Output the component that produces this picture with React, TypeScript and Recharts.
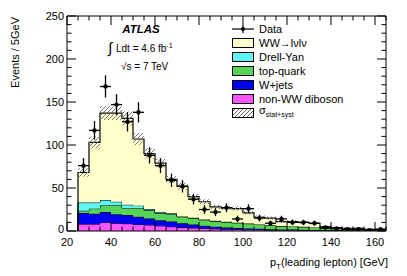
import React from 'react';
import { ComposedChart, Area, Scatter, ErrorBar, XAxis, YAxis } from 'recharts';

// lower bin edges, 5 GeV bins
const binEdges = [25, 30, 35, 40, 45, 50, 55, 60, 65, 70, 75, 80, 85, 90, 95, 100, 105, 110, 115, 120, 125, 130, 135, 140, 145, 150, 155, 160];

// expected events per bin, stacked from the bottom
const diboson = [8, 8, 10, 9, 8.5, 7.5, 7, 6, 5, 4, 3.5, 3, 2.5, 2, 2, 1.5, 1.5, 1, 1, 1, 0.8, 0.7, 0.6, 0.5, 0.4, 0.3, 0.3, 0.2];
const wjets = [13, 12, 12, 10.5, 10, 9, 7.5, 6.5, 6, 5, 4, 3, 2.5, 2, 1.5, 1.5, 1, 1, 0.8, 0.7, 0.6, 0.5, 0.4, 0.3, 0.3, 0.2, 0.2, 0.2];
const topQuark = [2.5, 6, 8, 10.5, 8, 10, 9.5, 8, 8.5, 7.5, 7.5, 7, 6.5, 6.5, 6, 5.5, 5, 4.5, 4, 3.5, 3.5, 3, 2.5, 2, 1.8, 1.5, 1.2, 1.2];
const drellYan = [9.5, 7, 6, 4, 4, 3, 1.5, 1.5, 1, 0.5, 0.5, 0.5, 0.3, 0.3, 0.2, 0.2, 0.2, 0.1, 0.1, 0, 0, 0, 0, 0, 0, 0, 0, 0];
const wwSignal = [35, 70, 101, 103, 100.5, 77.5, 64.5, 57, 39.5, 35, 24.5, 20.5, 16.2, 16.2, 16.3, 12.3, 8.3, 8.4, 5.1, 5.8, 5.1, 4.8, 1.5, 1.2, 0.5, 1, 0.3, 0.4];
const mcUncert = [5, 7, 8, 8, 8, 7, 6, 5, 4, 4, 3, 3, 2.5, 2.5, 2.5, 2, 2, 2, 1.5, 1.5, 1.5, 1.5, 1, 1, 1, 1, 1, 1];

// observed events per bin
const dataCounts = [76, 117, 168, 147, 127, 138, 88, 76, 59, 52, 37, 25, 22, 27, 14, 26, 15, 9, 14, 10, 10, 9, 4, 3, 2, 2, 1, 2];

const xTicks = [20, 25, 30, 35, 40, 45, 50, 55, 60, 65, 70, 75, 80, 85, 90, 95, 100, 105, 110, 115, 120, 125, 130, 135, 140, 145, 150, 155, 160, 165];
const yTicks = [0, 10, 20, 30, 40, 50, 60, 70, 80, 90, 100, 110, 120, 130, 140, 150, 160, 170, 180, 190, 200, 210, 220, 230, 240, 250];

const legendItems = [
  { label: 'WW\u2192l\u03bdl\u03bd', color: '#ffffcc' },
  { label: 'Drell-Yan', color: '#5ff5f5' },
  { label: 'top-quark', color: '#55d455' },
  { label: 'W+jets', color: '#0000f0' },
  { label: 'non-WW diboson', color: '#ff55ff' },
];

const BIN = 5;
const font = '"Liberation Sans", Arial, sans-serif';

const zeroRow = (x: number) => ({ x, dib: 0, wj: 0, top: 0, dy: 0, ww: 0, band: [0, 0] });
const binRow = (x: number, i: number) => {
  const tot = diboson[i] + wjets[i] + topQuark[i] + drellYan[i] + wwSignal[i];
  return {
    x,
    dib: diboson[i],
    wj: wjets[i],
    top: topQuark[i],
    dy: drellYan[i],
    ww: wwSignal[i],
    band: [Math.max(0, tot - mcUncert[i]), tot + mcUncert[i]],
  };
};

const last = binEdges.length - 1;
const histRows = [
  zeroRow(binEdges[0]),
  ...binEdges.map((e, i) => binRow(e, i)),
  binRow(binEdges[last] + BIN, last),
  zeroRow(binEdges[last] + BIN),
];

const points = binEdges.map((e, i) => ({
  x: e + BIN / 2,
  y: dataCounts[i],
  ey: Math.sqrt(dataCounts[i]),
  ex: BIN / 2,
}));

const BottomTick = (props: any) => {
  const { x, y, payload } = props;
  const major = payload.value % 20 === 0;
  return (
    <g>
      <line x1={x} x2={x} y1={y} y2={y - (major ? 9 : 4.5)} stroke="#000" />
      {major && (
        <text x={x} y={y + 15} textAnchor="middle" fontSize={11} fontFamily={font} fill="#000">
          {payload.value}
        </text>
      )}
    </g>
  );
};

const TopTick = (props: any) => {
  const { x, y, payload } = props;
  const major = payload.value % 20 === 0;
  return <line x1={x} x2={x} y1={y} y2={y + (major ? 9 : 4.5)} stroke="#000" />;
};

const LeftTick = (props: any) => {
  const { x, y, payload } = props;
  const major = payload.value % 50 === 0;
  return (
    <g>
      <line x1={x} x2={x + (major ? 9 : 4.5)} y1={y} y2={y} stroke="#000" />
      {major && (
        <text x={x - 3} y={y + (payload.value === 0 ? 2 : 4)} textAnchor="end" fontSize={11} fontFamily={font} fill="#000">
          {payload.value}
        </text>
      )}
    </g>
  );
};

const RightTick = (props: any) => {
  const { x, y, payload } = props;
  const major = payload.value % 50 === 0;
  return <line x1={x} x2={x - (major ? 9 : 4.5)} y1={y} y2={y} stroke="#000" />;
};

const Overlay = () => (
  <svg width={399} height={268} style={{ position: 'absolute', left: 0, top: 0, pointerEvents: 'none' }}>
    <defs>
      <pattern id="hatchLeg" width="4" height="4" patternUnits="userSpaceOnUse">
        <path d="M0,4 L4,0 M-1,1 L1,-1 M3,5 L5,3" stroke="#666" strokeWidth={1} />
      </pattern>
    </defs>
    <g fontFamily={font} fill="#000">
      <text x={7} y={9} transform="rotate(-90 7 9)" textAnchor="end" fontSize={11} dy={4}>
        Events / 5GeV
      </text>
      <text x={380} y={258} textAnchor="end" fontSize={11}>
        p<tspan fontSize={8} dy={3}>T</tspan>
        <tspan dy={-3}>(leading lepton) [GeV]</tspan>
      </text>
      <text x={133} y={25} textAnchor="middle" fontSize={11.5} fontWeight="bold" fontStyle="italic">
        ATLAS
      </text>
      <text x={100} y={45} fontSize={15}>{'\u222b'}</text>
      <text x={108} y={44} fontSize={10}>
        Ldt = 4.6 fb<tspan fontSize={7} dy={-4}>-1</tspan>
      </text>
      <text x={113} y={62} fontSize={10}>
        {'\u221a'}s = 7 TeV
      </text>

      <line x1={224} x2={246} y1={21} y2={21} stroke="#000" strokeWidth={1.2} />
      <line x1={235} x2={235} y1={17} y2={25} stroke="#000" strokeWidth={1.2} />
      <circle cx={235} cy={21} r={2} fill="#000" />
      <text x={251} y={25} fontSize={11}>Data</text>

      {legendItems.map((it, i) => {
        const cy = 35 + i * 14;
        return (
          <g key={it.label}>
            <rect x={224.5} y={cy - 4.5} width={21} height={9} fill={it.color} stroke="#000" strokeWidth={1} />
            <text x={251} y={cy + 4} fontSize={11}>{it.label}</text>
          </g>
        );
      })}
      <rect x={224.5} y={105 - 4.5} width={21} height={9} fill="url(#hatchLeg)" stroke="#000" strokeWidth={1} />
      <text x={251} y={106} fontSize={11}>
        {'\u03c3'}<tspan fontSize={7} dy={3}>stat+syst</tspan>
      </text>
    </g>
  </svg>
);

const App = () => {
  return (
    <div style={{ position: 'relative', width: 399, height: 268 }}>
      <ComposedChart width={399} height={268} data={histRows} margin={{ top: 7, right: 20, left: 19, bottom: 15 }}>
        <defs>
          <pattern id="hatch" width="4" height="4" patternUnits="userSpaceOnUse">
            <path d="M0,4 L4,0 M-1,1 L1,-1 M3,5 L5,3" stroke="#777" strokeWidth={1} />
          </pattern>
        </defs>
        <XAxis
          dataKey="x"
          type="number"
          domain={[20, 165]}
          ticks={xTicks}
          interval={0}
          allowDataOverflow
          tickSize={0}
          tickMargin={0}
          tickLine={false}
          tick={<BottomTick />}
          height={30}
          axisLine={{ stroke: '#000' }}
        />
        <XAxis
          xAxisId="t"
          orientation="top"
          dataKey="x"
          type="number"
          domain={[20, 165]}
          ticks={xTicks}
          interval={0}
          allowDataOverflow
          tickSize={0}
          tickMargin={0}
          tickLine={false}
          tick={<TopTick />}
          height={1}
          axisLine={{ stroke: '#000' }}
        />
        <YAxis
          type="number"
          domain={[0, 250]}
          ticks={yTicks}
          interval={0}
          allowDataOverflow
          tickSize={0}
          tickMargin={0}
          tickLine={false}
          tick={<LeftTick />}
          width={40}
          axisLine={{ stroke: '#000' }}
        />
        <YAxis
          yAxisId="r"
          orientation="right"
          type="number"
          domain={[0, 250]}
          ticks={yTicks}
          interval={0}
          allowDataOverflow
          tickSize={0}
          tickMargin={0}
          tickLine={false}
          tick={<RightTick />}
          width={1}
          axisLine={{ stroke: '#000' }}
        />
        <Area type="stepAfter" dataKey="dib" stackId="mc" fill="#ff55ff" fillOpacity={1} stroke="#000" strokeWidth={1} isAnimationActive={false} />
        <Area type="stepAfter" dataKey="wj" stackId="mc" fill="#0000f0" fillOpacity={1} stroke="#000" strokeWidth={1} isAnimationActive={false} />
        <Area type="stepAfter" dataKey="top" stackId="mc" fill="#55d455" fillOpacity={1} stroke="#000" strokeWidth={1} isAnimationActive={false} />
        <Area type="stepAfter" dataKey="dy" stackId="mc" fill="#5ff5f5" fillOpacity={1} stroke="#000" strokeWidth={1} isAnimationActive={false} />
        <Area type="stepAfter" dataKey="ww" stackId="mc" fill="#ffffcc" fillOpacity={1} stroke="#000" strokeWidth={1.2} isAnimationActive={false} />
        <Area type="stepAfter" dataKey="band" fill="url(#hatch)" fillOpacity={1} stroke="none" isAnimationActive={false} />
        <Scatter
          data={points}
          dataKey="y"
          fill="#000"
          isAnimationActive={false}
          shape={(p: any) => <circle cx={p.cx} cy={p.cy} r={2.2} fill="#000" />}
        >
          <ErrorBar dataKey="ey" direction="y" width={0} stroke="#000" strokeWidth={1.3} />
          <ErrorBar dataKey="ex" direction="x" width={0} stroke="#000" strokeWidth={1.3} />
        </Scatter>
      </ComposedChart>
      <Overlay />
    </div>
  );
};

export default App;
